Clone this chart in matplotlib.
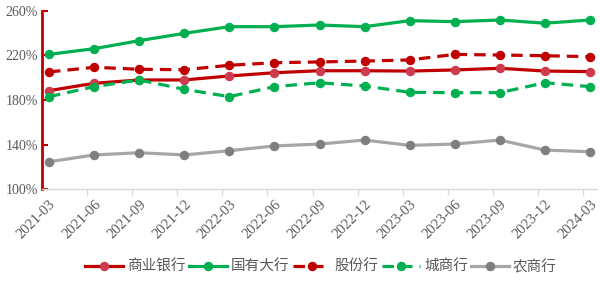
"""
拨备覆盖率：各类银行季度走势
"""

import matplotlib
matplotlib.use("Agg")
import matplotlib.pyplot as plt
import numpy as np

quarters = ["2021-03", "2021-06", "2021-09", "2021-12", "2022-03", "2022-06",
            "2022-09", "2022-12", "2023-03", "2023-06", "2023-09", "2023-12",
            "2024-03"]

commercial = [188.4, 195.0, 198.0, 198.0, 201.6, 204.5, 206.3, 206.3, 206.0,
              207.0, 208.5, 206.0, 205.5]
state_owned = [221.0, 226.1, 233.3, 239.9, 245.9, 245.9, 247.4, 245.9, 251.3,
               250.4, 251.9, 249.0, 251.9]
joint_stock = [205.2, 209.4, 207.6, 207.2, 211.2, 213.5, 214.2, 215.0, 216.0,
               221.0, 220.4, 219.8, 218.9]
city = [183.0, 192.0, 198.0, 189.6, 183.0, 192.0, 195.5, 192.6, 186.9, 186.6,
        186.6, 195.5, 192.0]
rural = [124.5, 130.6, 132.6, 130.6, 134.4, 138.7, 140.4, 144.0, 139.2, 140.4,
         144.0, 135.0, 133.5]

RED = "#C00000"
GREEN = "#00B050"
GREY = "#A6A6A6"
TXT = "#595959"

plt.rcParams["font.family"] = ["Noto Sans CJK SC", "DejaVu Sans"]

fig = plt.figure(figsize=(6, 2.89), dpi=100)
ax = fig.add_axes([0.07, 0.346, 0.925, 0.616])

x = np.arange(len(quarters))
lw = 2.3
ms = 5.8
dash = (3.6, 2.2)

ax.plot(x, commercial, color=RED, lw=lw, marker="o", ms=ms,
        mfc="#CF3A4C", mec="#CF3A4C", label="商业银行", zorder=3)
ax.plot(x, state_owned, color=GREEN, lw=lw, marker="o", ms=ms,
        label="国有大行", zorder=3)
ax.plot(x, joint_stock, color=RED, lw=lw, marker="o", ms=ms,
        dashes=dash, label="股份行", zorder=3)
ax.plot(x, city, color=GREEN, lw=lw, marker="o", ms=ms,
        dashes=dash, label="城商行", zorder=3)
ax.plot(x, rural, color=GREY, lw=lw, marker="o", ms=ms,
        mfc="#7F7F7F", mec="#7F7F7F", label="农商行", zorder=3)

ax.set_xlim(-0.155, len(quarters) - 1 + 0.155)
ax.set_ylim(100, 260)

yt = [100, 140, 180, 220, 260]
ax.set_yticks(yt)
ax.set_yticklabels([f"{v}%" for v in yt], family="Liberation Serif",
                   fontsize=10, color=TXT)
ax.tick_params(axis="y", direction="in", length=4, width=1.5, color=RED,
               pad=3)

ax.set_xticks(x)
ax.set_xticklabels(quarters, rotation=45, ha="right", rotation_mode="anchor",
                   family="Liberation Serif", fontsize=10.5, color=TXT)
ax.tick_params(axis="x", length=0, pad=6)
ax.set_xticks(x[1:] - 0.155, minor=True)
ax.tick_params(axis="x", which="minor", length=4, width=1, color="#D9D9D9")

for s in ["top", "right"]:
    ax.spines[s].set_visible(False)
ax.spines["left"].set_color(RED)
ax.spines["left"].set_linewidth(2)
ax.spines["bottom"].set_color("#D9D9D9")
ax.spines["bottom"].set_linewidth(1)

fig.legend(loc="center", bbox_to_anchor=(0.535, 0.076), ncol=5, frameon=False,
           prop={"size": 10.5, "weight": "medium"}, handlelength=2.6,
           handletextpad=0.3, columnspacing=0.2, labelcolor=TXT)

fig.savefig("out.png", dpi=100)
